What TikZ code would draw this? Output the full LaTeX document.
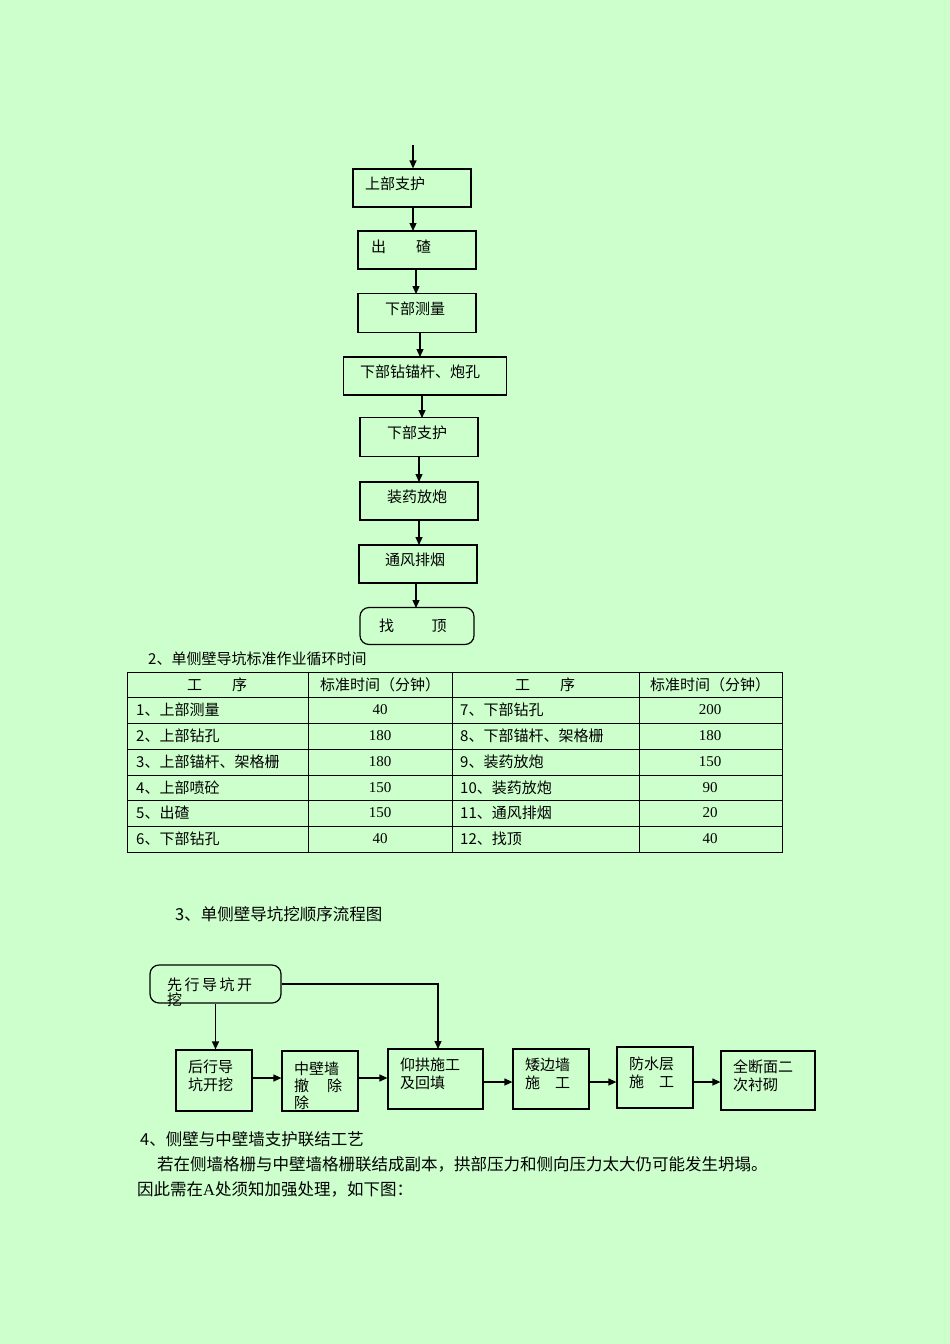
\documentclass[tikz,border=0pt]{standalone}
\usepackage{fontspec}
\setmainfont{Noto Sans CJK SC}
\newfontfamily\numf{Liberation Serif}
\usetikzlibrary{arrows.meta}
\begin{document}
\begin{tikzpicture}[x=1pt,y=-1pt,
  bx/.style={draw,line width=1.2pt},
  ar/.style={-{Triangle[length=8pt,width=7pt]},line width=1.2pt},
  tx/.style={font=\fontsize{15}{18}\selectfont,anchor=west,inner sep=0},
  tl/.style={font=\fontsize{15}{17}\selectfont,inner sep=0}]
\fill[fill={rgb,255:red,204;green,255;blue,204}] (0,0) rectangle (950,1344);
\useasboundingbox (0,0) rectangle (950,1344);
% top flow
\coordinate (s0) at (413,145);
\node[bx,minimum width=118pt,minimum height=38pt] (b1) at (412,188) {};
\node[tx] at (365,184) {上部支护};
\node[bx,minimum width=118pt,minimum height=38pt] (b2) at (417,250) {};
\node[tx] at (371,247) {出\hspace{2em}碴};
\node[bx,minimum width=118pt,minimum height=39pt] (b3) at (417,313) {};
\node[tx] at (385,309) {下部测量};
\node[bx,minimum width=163pt,minimum height=38pt] (b4) at (425,376) {};
\node[tx] at (360,372) {下部钻锚杆、炮孔};
\node[bx,minimum width=118pt,minimum height=39pt] (b5) at (419,437) {};
\node[tx] at (387,433) {下部支护};
\node[bx,minimum width=118pt,minimum height=38pt] (b6) at (419,501) {};
\node[tx] at (387,497) {装药放炮};
\node[bx,minimum width=118pt,minimum height=38pt] (b7) at (418,564) {};
\node[tx] at (385,560) {通风排烟};
\node[bx,rounded corners=9pt,minimum width=114pt,minimum height=37pt] (b8) at (417,626) {};
\node[tx] at (379,626) {找\hspace{2.5em}顶};
\draw[ar] (s0) -- (s0|-b1.north);
\draw[ar] (413,207) -- (413,231);
\draw[ar] (416,269) -- (416,294);
\draw[ar] (420,333) -- (420,357);
\draw[ar] (422,395) -- (422,418);
\draw[ar] (419,457) -- (419,482);
\draw[ar] (419,520) -- (419,545);
\draw[ar] (416,583) -- (416,608);
% table
\node[tl,anchor=west] (cap) at (148,659) {2、单侧壁导坑标准作业循环时间};
\draw[line width=0.8pt] (127,672) rectangle (782,852);
\foreach \x in {308,452,639} \draw[line width=0.8pt] (\x,672) -- (\x,852);
\foreach \y in {697,723,749,775,800,826} \draw[line width=0.8pt] (127,\y) -- (782,\y);
\node[tl] at (217,685) {工\hspace{2em}序};
\node[tl] at (380,685) {标准时间（分钟）};
\node[tl] at (545,685) {工\hspace{2em}序};
\node[tl] at (710,685) {标准时间（分钟）};
\foreach \y/\a/\b/\c/\d in {
 710/1、上部测量/40/7、下部钻孔/200,
 736/2、上部钻孔/180/8、下部锚杆、架格栅/180,
 762/3、上部锚杆、架格栅/180/9、装药放炮/150,
 788/4、上部喷砼/150/10、装药放炮/90,
 813/5、出碴/150/11、通风排烟/20,
 839/6、下部钻孔/40/12、找顶/40}{
 \node[tl,anchor=west] at (136,\y) {\a};
 \node[tl] at (380,\y) {\numf\b};
 \node[tl,anchor=west] at (460,\y) {\c};
 \node[tl] at (710,\y) {\numf\d};
}
% section 3
\node[tx,font=\fontsize{16.5}{19}\selectfont] at (175,914) {3、单侧壁导坑挖顺序流程图};
\node[bx,rounded corners=9pt,minimum width=131pt,minimum height=38pt] (p0) at (215.5,984) {};
\node[tx,align=left,text width=110pt] at (167,992) {先\,行\,导\,坑\,开\\[-3pt]挖};
\node[bx,minimum width=76pt,minimum height=61pt] (p1) at (214,1080.5) {};
\node[tx,align=left] at (188,1076) {后行导\\坑开挖};
\node[bx,minimum width=76pt,minimum height=60pt] (p2) at (320,1081) {};
\node[tx,align=left] at (294,1086) {中壁墙\\[-1pt]撤\hspace{1.2em}除\\[-1pt]除};
\node[bx,minimum width=95pt,minimum height=60pt] (p3) at (435.5,1079) {};
\node[tx,align=left] at (400,1074) {仰拱施工\\及回填};
\node[bx,minimum width=76pt,minimum height=60pt] (p4) at (551,1079) {};
\node[tx,align=left] at (525,1074) {矮边墙\\施\hspace{1em}工};
\node[bx,minimum width=76pt,minimum height=61pt] (p5) at (655,1077.5) {};
\node[tx,align=left] at (629,1073) {防水层\\施\hspace{1em}工};
\node[bx,minimum width=94pt,minimum height=59pt] (p6) at (768,1080.5) {};
\node[tx,align=left] at (733,1076) {全断面二\\次衬砌};
\draw[ar] (p0.south) -- (p1.north -| p0.south);
\draw[ar] (p0.east |- 0,984) -- (438,984) -- (438,1049);
\draw[ar] (p1.east |- 0,1078) -- (p2.west |- 0,1078);
\draw[ar] (p2.east |- 0,1078) -- (p3.west |- 0,1078);
\draw[ar] (p3.east |- 0,1082) -- (p4.west |- 0,1082);
\draw[ar] (p4.east |- 0,1082) -- (p5.west |- 0,1082);
\draw[ar] (p5.east |- 0,1082) -- (p6.west |- 0,1082);
% section 4
\node[tx,font=\fontsize{16.5}{19}\selectfont] at (140,1139) {4、侧壁与中壁墙支护联结工艺};
\node[tx,font=\fontsize{16.5}{19}\selectfont] at (157,1164) {若在侧墙格栅与中壁墙格栅联结成副本，拱部压力和侧向压力太大仍可能发生坍塌。};
\node[tx,font=\fontsize{16.5}{19}\selectfont] at (137,1189) {因此需在{\numf A}处须知加强处理，如下图：};
\end{tikzpicture}
\end{document}
